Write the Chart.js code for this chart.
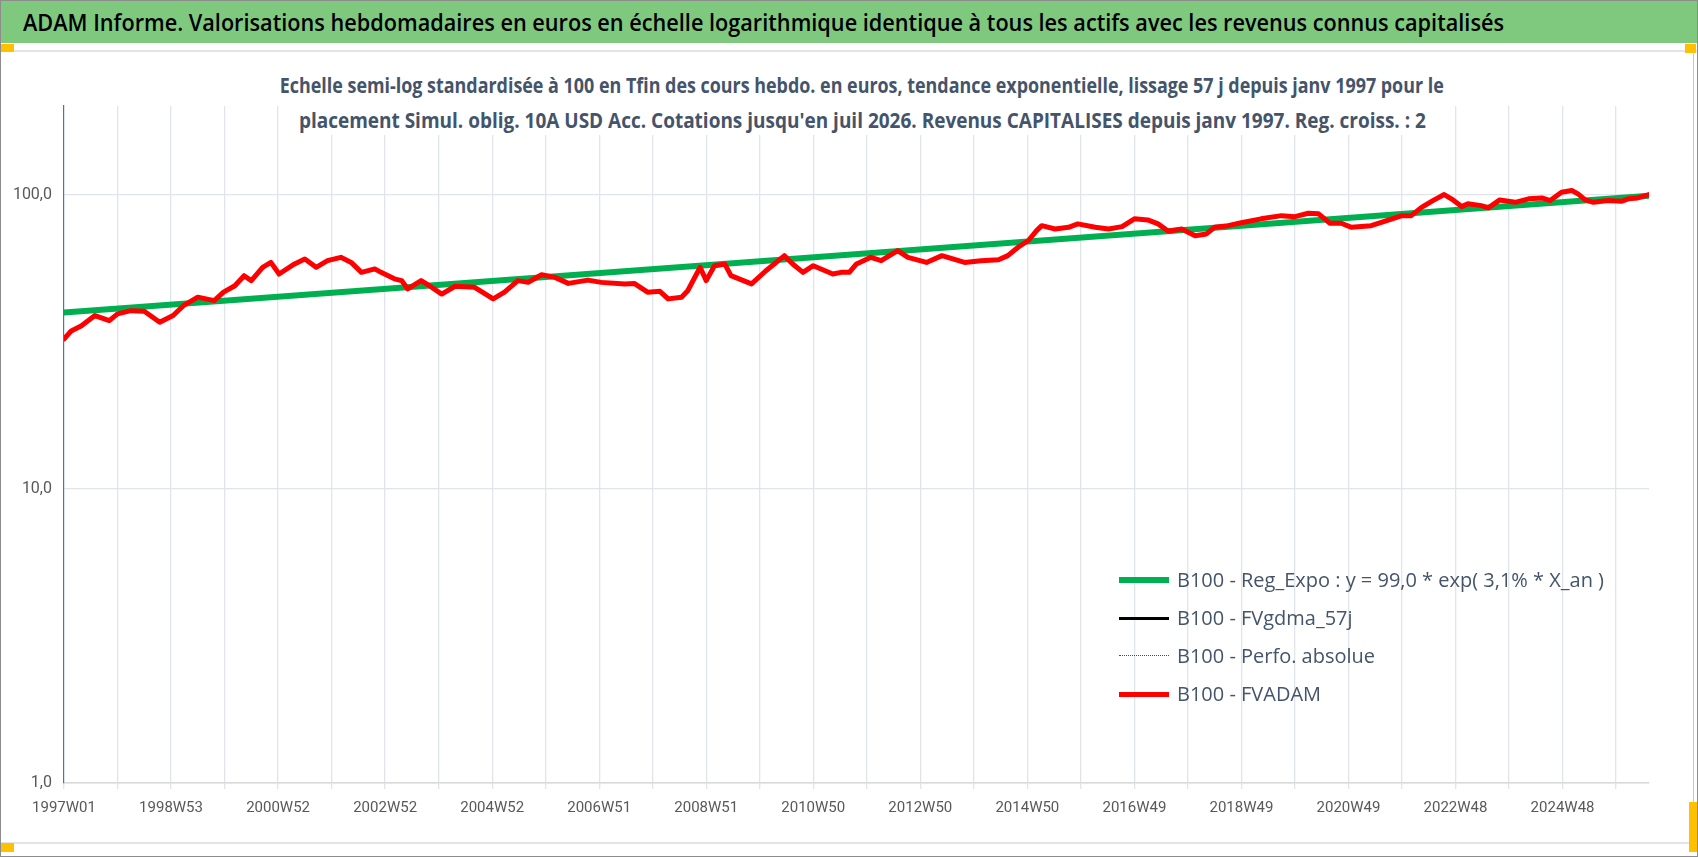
<!DOCTYPE html>
<html lang="fr">
<head>
  <meta charset="UTF-8">
  <title>ADAM Informe - Simul. oblig. 10A USD Acc.</title>
  <script src="https://cdn.jsdelivr.net/npm/chart.js"></script>
  <style>
    body {
      margin: 0;
      background: #fff;
      font-family: 'Open Sans', 'Lato', sans-serif;
    }

    .page {
      position: relative;
      width: 1698px;
      height: 857px;
      box-sizing: border-box;
      border: 1px solid #8c8c8c;
      overflow: hidden;
      background: #fff;
    }

    .header {
      position: absolute;
      left: 0;
      top: 0;
      width: 100%;
      height: 42px;
      background: #7fc97f;
    }

    .fit {
      position: absolute;
      white-space: nowrap;
      display: inline-block;
    }

    #title {
      font-size: 23px;
      font-weight: 600;
      color: #000;
      line-height: 30px;
      top: 6px;
      left: 22px;
      transform-origin: left center;
    }

    .subtitle {
      font-size: 21px;
      font-weight: 700;
      color: #44546a;
      line-height: 30px;
      background: #fff;
      transform-origin: center center;
      z-index: 2;
    }

    .sep {
      position: absolute;
      left: 0;
      width: 100%;
      height: 2px;
      background: #e4e4e4;
    }

    .chart-box {
      position: absolute;
      left: 0;
      top: 52px;
      width: 1692px;
      height: 788px;
      border-right: 1px solid #c8c8c8;
      box-sizing: content-box;
    }

    .handle {
      position: absolute;
      background: #ffc000;
      z-index: 3;
    }

    #legend {
      position: absolute;
      left: 1118px;
      top: 560px;
      z-index: 2;
    }

    .legend-row {
      position: absolute;
      left: 0;
      height: 38px;
      width: 600px;
    }

    .legend-row .sample {
      position: absolute;
      left: 0;
      width: 50px;
      top: 19px;
    }

    .legend-row .label {
      position: absolute;
      left: 58px;
      top: 4px;
      font-size: 20px;
      line-height: 30px;
      color: #44546a;
      white-space: nowrap;
      transform-origin: left center;
    }
  </style>
</head>

<body>
  <div class="page">
    <div class="header">
      <span id="title" class="fit">ADAM Informe. Valorisations hebdomadaires en euros en échelle logarithmique identique à tous les actifs avec les revenus connus capitalisés</span>
    </div>
    <div class="sep" style="top:49px;"></div>
    <div class="sep" style="top:841px;"></div>

    <div class="chart-box">
      <canvas id="adamChart"></canvas>
    </div>

    <span class="fit subtitle" id="sub1">Echelle semi-log standardisée à 100 en Tfin des cours hebdo. en euros, tendance exponentielle, lissage 57 j depuis janv 1997 pour le</span>
    <span class="fit subtitle" id="sub2">placement Simul. oblig. 10A USD Acc. Cotations jusqu'en juil 2026. Revenus CAPITALISES depuis janv 1997. Reg. croiss. : 2</span>

    <div id="legend"></div>

    <div class="handle" style="left:0;top:43px;width:13px;height:8px;"></div>
    <div class="handle" style="left:1684px;top:43px;width:11px;height:9px;"></div>
    <div class="handle" style="left:0;top:842px;width:13px;height:9px;"></div>
    <div class="handle" style="left:1688px;top:801px;width:9px;height:50px;"></div>
  </div>

  <script>
    // Axe X : index de semaine depuis 1997W01, libellés toutes les 104 semaines
    const tickLabels = ['1997W01', '1998W53', '2000W52', '2002W52', '2004W52', '2006W51', '2008W51',
      '2010W50', '2012W50', '2014W50', '2016W49', '2018W49', '2020W49', '2022W48', '2024W48'];
    const yTicks = [1, 10, 100];
    const lastWeek = 1540; // juil 2026

    // Tendance exponentielle (droite en semi-log)
    const regWeeks = [0, 1540];
    const regValues = [39.7, 99.0];

    // FVADAM
    const adamWeeks = [0, 7, 17, 30, 44, 52, 65, 78, 93, 106, 116, 130, 146, 155, 166, 175, 182, 193, 201, 209,
      224, 234, 245, 256, 269, 279, 289, 302, 308, 321, 328, 334, 347, 355, 367, 380, 399, 417, 428, 441,
      451, 464, 477, 490, 509, 522, 545, 554, 567, 579, 587, 600, 606, 618, 624, 632, 642, 648, 668, 682,
      700, 708, 718, 728, 747, 755, 763, 770, 784, 794, 810, 820, 838, 853, 875, 891, 908, 917, 927, 937,
      945, 950, 963, 976, 985, 1002, 1015, 1028, 1040, 1053, 1063, 1073, 1086, 1099, 1110, 1118, 1131, 1144, 1163, 1183,
      1196, 1209, 1219, 1230, 1241, 1251, 1270, 1283, 1300, 1309, 1319, 1330, 1341, 1348, 1358, 1364, 1377, 1384, 1395, 1410,
      1423, 1436, 1444, 1455, 1465, 1471, 1478, 1486, 1500, 1513, 1520, 1529, 1540];
    const adamValues = [32.3, 34.4, 35.8, 38.8, 37.3, 39.3, 40.3, 40.1, 36.8, 38.8, 41.9, 44.8, 43.6, 46.6, 49.0, 53.0, 51.0, 56.6, 58.8, 53.7,
      58.1, 60.4, 56.6, 59.6, 61.2, 58.8, 54.4, 55.9, 54.4, 51.7, 51.0, 47.8, 51.0, 49.0, 45.9, 48.8, 48.4, 44.2, 46.6, 51.0,
      50.3, 53.4, 52.3, 49.9, 51.2, 50.3, 49.7, 49.9, 46.6, 46.9, 44.2, 44.8, 47.1, 56.6, 51.0, 57.3, 58.1, 53.0, 49.7, 55.1,
      62.0, 58.1, 54.4, 57.3, 53.7, 54.4, 54.4, 58.1, 61.2, 59.6, 64.5, 61.2, 58.8, 62.0, 58.8, 59.6, 60.0, 62.0, 66.2, 69.8,
      75.4, 78.4, 76.4, 77.4, 79.5, 77.4, 76.4, 77.8, 82.7, 82.0, 79.5, 75.0, 76.4, 72.5, 73.5, 77.4, 78.4, 80.2, 82.7, 84.8,
      84.1, 86.4, 86.0, 79.9, 79.9, 77.4, 78.4, 81.1, 84.8, 84.8, 90.5, 95.4, 100.0, 96.7, 91.0, 93.0, 91.7, 90.1, 95.9, 94.1,
      96.7, 97.4, 95.4, 101.8, 103.2, 100.5, 95.9, 94.1, 95.4, 94.9, 96.7, 97.4, 100.0];

    const toPoints = (xs, ys) => xs.map((x, i) => ({ x: x, y: ys[i] }));

    const datasets = [
      {
        label: 'B100 - Reg_Expo : y = 99,0 * exp( 3,1% *  X_an )',
        data: toPoints(regWeeks, regValues),
        borderColor: '#00b050',
        borderWidth: 6,
        order: 4
      },
      {
        label: 'B100 - FVgdma_57j',
        data: toPoints(adamWeeks, adamValues),
        borderColor: '#000000',
        borderWidth: 3,
        order: 3
      },
      {
        label: 'B100 - Perfo. absolue',
        data: toPoints(adamWeeks, adamValues),
        borderColor: '#ff0000',
        borderWidth: 1.5,
        borderDash: [2, 2],
        order: 2
      },
      {
        label: 'B100 - FVADAM',
        data: toPoints(adamWeeks, adamValues),
        borderColor: '#ff0000',
        borderWidth: 5,
        order: 1
      }
    ];

    const gridColor = '#e0e4eb';

    new Chart(document.getElementById('adamChart'), {
      type: 'line',
      data: { datasets: datasets },
      options: {
        responsive: true,
        maintainAspectRatio: false,
        animation: false,
        layout: { padding: { top: 53, right: 44, left: 0, bottom: 0 } },
        elements: {
          point: { radius: 0 },
          line: { tension: 0, borderJoinStyle: 'round', borderCapStyle: 'round' }
        },
        plugins: {
          legend: { display: false },
          title: { display: false },
          tooltip: { enabled: false }
        },
        scales: {
          x: {
            type: 'linear',
            min: 0,
            max: lastWeek,
            afterFit: s => { s.height = 58; },
            afterBuildTicks: s => {
              const t = [];
              for (let v = 0; v < lastWeek; v += 52) t.push({ value: v });
              s.ticks = t;
            },
            ticks: {
              autoSkip: false,
              maxRotation: 0,
              padding: 10,
              color: '#595959',
              font: { family: 'Roboto', size: 15 },
              callback: v => {
                const i = v / 104;
                return Number.isInteger(i) ? tickLabels[i] : '';
              }
            },
            grid: {
              color: ctx => (ctx.tick && ctx.tick.value === 0) ? 'rgba(0,0,0,0)' : gridColor,
              tickColor: gridColor,
              tickLength: 6,
              lineWidth: 1.3
            },
            border: { color: '#d9d9d9', width: 1.5 }
          },
          y: {
            type: 'logarithmic',
            min: 1,
            max: 200,
            afterFit: s => { s.width = 63; },
            afterBuildTicks: s => { s.ticks = yTicks.map(v => ({ value: v })); },
            ticks: {
              padding: 12,
              color: '#595959',
              font: { family: 'Roboto', size: 16 },
              callback: v => v.toFixed(1).replace('.', ',')
            },
            grid: { color: gridColor, drawTicks: false, lineWidth: 1.3 },
            border: { color: '#4472c4', width: 1.2 }
          }
        }
      }
    });

    // Légende HTML placée dans la zone de tracé
    const legend = document.getElementById('legend');
    datasets.forEach((ds, i) => {
      const row = document.createElement('div');
      row.className = 'legend-row';
      row.style.top = (i * 38) + 'px';
      const sample = document.createElement('div');
      sample.className = 'sample';
      sample.style.borderTop = ds.borderWidth + 'px ' + (ds.borderDash ? 'dotted ' : 'solid ') + ds.borderColor;
      sample.style.marginTop = (-ds.borderWidth / 2) + 'px';
      const label = document.createElement('span');
      label.className = 'label';
      label.textContent = ds.label;
      row.appendChild(sample);
      row.appendChild(label);
      legend.appendChild(row);
    });

    // Ajustement des largeurs de texte (police étroite d'origine)
    function fitWidth(el, target) {
      const w = el.getBoundingClientRect().width;
      el.style.transform = 'scaleX(' + (target / w) + ')';
      return target / w;
    }
    function placeCentered(el, cx, cy, target) {
      const r = el.getBoundingClientRect();
      el.style.left = (cx - r.width / 2) + 'px';
      el.style.top = (cy - r.height / 2) + 'px';
      fitWidth(el, target);
    }

    fitWidth(document.getElementById('title'), 1481);
    placeCentered(document.getElementById('sub1'), 861, 84, 1164);
    placeCentered(document.getElementById('sub2'), 861, 119, 1127);
    const labels = legend.querySelectorAll('.label');
    const k = 427 / labels[0].getBoundingClientRect().width;
    labels.forEach(l => { l.style.transform = 'scaleX(' + k + ')'; });
  </script>
</body>

</html>
